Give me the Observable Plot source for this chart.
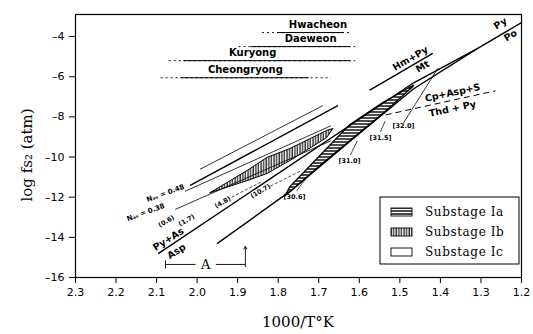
<!DOCTYPE html>
<html><head><meta charset="utf-8">
<script src="https://cdn.jsdelivr.net/npm/d3@7"></script>
<script src="https://cdn.jsdelivr.net/npm/@observablehq/plot@0.6"></script>
<style>
body{margin:0;background:#fff;}
#chart{width:533px;height:334px;}
</style></head><body><div id="chart"></div>
<script>
// ---- axes ----
const xTicks = [2.3,2.2,2.1,2.0,1.9,1.8,1.7,1.6,1.5,1.4,1.3,1.2];
const yTicks = [-4,-6,-8,-10,-12,-14,-16];

// ---- boundary lines (1000/T, log fS2) ----
const lineAspPo = [[2.095,-14.8],[1.466,-6.3],[1.309,-4.6],[1.200,-3.3]];
const lineLower = [[1.950,-14.3],[1.770,-11.7],[1.622,-9.2],[1.466,-6.6],[1.309,-4.6]];
const lineHmMt1 = [[2.016,-11.4],[1.654,-7.45]];
const lineHmMt2 = [[1.573,-6.65],[1.420,-4.85]];
const lineThin1 = [[1.992,-10.6],[1.691,-7.45]];
const lineNAs48 = [[2.029,-11.7],[1.671,-8.45]];
const lineNAs38 = [[2.053,-12.6],[1.671,-9.2]];
const lineSteep = [[1.407,-5.6],[1.491,-8.3]];
const lineCpThd = [[1.535,-7.9],[1.264,-6.7]];

// ---- substage regions: x, upper, lower ----
const stageIaX  = [1.782,1.770,1.696,1.622,1.540,1.466];
const stageIaHi = [-11.95,-11.5,-9.95,-8.4,-7.3,-6.45];
const stageIaLo = [-11.95,-11.75,-10.45,-9.2,-7.84,-6.5];
const stageIbX  = [1.967,1.876,1.827,1.770,1.679,1.664];
const stageIbHi = [-11.8,-10.7,-10.05,-9.6,-8.7,-8.6];
const stageIbLo = [-11.8,-11.2,-10.85,-10.2,-9.05,-8.6];

// ---- deposits (temperature ranges) ----
const stations = ["Hwacheon","Daeweon","Kuryong","Cheongryong"];
const stationY = [-3.8,-4.5,-5.2,-6.05];
const stationSolidFrom = [1.800,1.868,2.034,2.041];
const stationSolidTo   = [1.639,1.622,1.622,1.725];
const stationDashFrom  = [1.840,1.898,2.070,2.090];
const stationDashTo    = [1.620,1.610,1.610,1.670];
const stationLabelX    = [1.702,1.720,1.863,1.881];

// ---- labels ----
const reactTexts = ["Py","Po","Hm+Py","Mt","Cp+Asp+S","Thd + Py","Py+As","Asp"];
const reactX = [1.252,1.227,1.474,1.444,1.370,1.370,2.071,2.051];
const reactY = [-3.35,-3.95,-5.1,-5.5,-6.8,-7.6,-14.1,-14.7];
const reactRot = [-32,-32,-30,-30,-12,-12,-32,-32];

const nasTexts = ["N\u2090\u209b = 0.48","N\u2090\u209b = 0.38"];
const nasX = [2.078,2.127];
const nasY = [-11.8,-12.75];

const molTexts = ["(0.6)","(1.7)","(4.8)","(10.7)"];
const molX = [2.076,2.026,1.937,1.844];
const molY = [-13.2,-13.15,-12.25,-11.7];
const molLeadX1 = [null,null,1.915,1.819];
const molLeadX2 = [null,null,1.838,1.745];
const molLeadY1 = [null,null,-12.0,-11.45];
const molLeadY2 = [null,null,-11.2,-10.7];

const aspTexts = ["[30.6]","[31.0]","[31.5]","[32.0]"];
const aspX = [1.760,1.624,1.548,1.491];
const aspY = [-12.0,-10.2,-9.05,-8.45];
const aspLeadX1 = [1.755,1.622,1.548];
const aspLeadX2 = [1.733,1.605,1.536];
const aspLeadY1 = [-11.7,-9.9,-8.75];
const aspLeadY2 = [-11.1,-9.2,-8.2];

// bracket A
const bracketY = -15.35;
const bracketLeft = 2.078, bracketRight = 1.881, bracketMid = 1.979;
const bracketArrowTop = -14.45, bracketArrowBottom = -15.45;

// ---- derived tables ----
const toPts = (arr, id) => arr.map(([x,y]) => ({x, y, id}));
const solidLines = [
  ...toPts(lineAspPo,"asp"), ...toPts(lineLower,"low"),
  ...toPts(lineHmMt1,"hm1"), ...toPts(lineHmMt2,"hm2")
];
const thinLines = [
  ...toPts(lineThin1,"t1"), ...toPts(lineNAs48,"n48"), ...toPts(lineNAs38,"n38"), ...toPts(lineSteep,"st")
];
const ia = stageIaX.map((x,i)=>({x, hi:stageIaHi[i], lo:stageIaLo[i]}));
const ib = stageIbX.map((x,i)=>({x, hi:stageIbHi[i], lo:stageIbLo[i]}));
const st = stations.map((s,i)=>({name:s, y:stationY[i], s1:stationSolidFrom[i], s2:stationSolidTo[i], d1:stationDashFrom[i], d2:stationDashTo[i], lx:stationLabelX[i]}));
const react = reactTexts.map((t,i)=>({t, x:reactX[i], y:reactY[i], r:reactRot[i]}));
const nas = nasTexts.map((t,i)=>({t, x:nasX[i], y:nasY[i]}));
const mol = molTexts.map((t,i)=>({t, x:molX[i], y:molY[i]}));
const molLead = molLeadX1.map((x,i)=>({x1:x, x2:molLeadX2[i], y1:molLeadY1[i], y2:molLeadY2[i]})).filter(d=>d.x1!=null);
const asp = aspTexts.map((t,i)=>({t, x:aspX[i], y:aspY[i]}));
const aspLead = aspLeadX1.map((x,i)=>({x1:x, x2:aspLeadX2[i], y1:aspLeadY1[i], y2:aspLeadY2[i]}));

const smallFont = "DejaVu Sans";

const chart = Plot.plot({
  width: 533, height: 334,
  marginLeft: 75, marginRight: 12, marginTop: 14, marginBottom: 57,
  style: {background: "white", color: "black", fontFamily: "DejaVu Sans", fontSize: "11px"},
  x: {domain: [2.3, 1.2], ticks: xTicks, tickFormat: d => d.toFixed(1), tickSize: 6, tickPadding: 5, label: null},
  y: {domain: [-16, -2.9], ticks: yTicks, tickFormat: d => "\u2013" + Math.abs(d), tickSize: 6, tickPadding: 5, label: null},
  marks: [
    Plot.frame({stroke: "black", strokeWidth: 1.2}),
    Plot.areaY(ia, {x: "x", y1: "lo", y2: "hi", fill: "url(#hatchH)", stroke: "black", strokeWidth: 1.3}),
    Plot.areaY(ib, {x: "x", y1: "lo", y2: "hi", fill: "url(#hatchV)", stroke: "black", strokeWidth: 1}),
    Plot.line(solidLines, {x: "x", y: "y", z: "id", stroke: "black", strokeWidth: 1.4}),
    Plot.line(thinLines, {x: "x", y: "y", z: "id", stroke: "black", strokeWidth: 0.8}),
    Plot.link([{x1: lineCpThd[0][0], y1: lineCpThd[0][1], x2: lineCpThd[1][0], y2: lineCpThd[1][1]}],
      {x1: "x1", y1: "y1", x2: "x2", y2: "y2", stroke: "black", strokeWidth: 1, strokeDasharray: "6,4"}),
    // deposits
    Plot.link(st, {x1: "d1", x2: "d2", y1: "y", y2: "y", stroke: "black", strokeWidth: 0.9, strokeDasharray: "2,3"}),
    Plot.link(st, {x1: "s1", x2: "s2", y1: "y", y2: "y", stroke: "black", strokeWidth: 1}),
    Plot.text(st, {x: "lx", y: "y", text: "name", dy: -8, fontSize: 10, fontWeight: "bold", fontFamily: smallFont, style: "letter-spacing:0.6px"}),
    // reaction labels
    Plot.text(react, {x: "x", y: "y", text: "t", rotate: "r", fontSize: 9.5, fontWeight: "bold", fontFamily: smallFont}),
    Plot.text(nas, {x: "x", y: "y", text: "t", rotate: -20, fontSize: 7, fontWeight: "bold", fontFamily: smallFont}),
    Plot.text(mol, {x: "x", y: "y", text: "t", rotate: -30, fontSize: 6.5, fontWeight: "bold", fontFamily: smallFont}),
    Plot.link(molLead, {x1: "x1", y1: "y1", x2: "x2", y2: "y2", stroke: "black", strokeWidth: 0.7, strokeDasharray: "3,2"}),
    Plot.text(asp, {x: "x", y: "y", text: "t", fontSize: 6.5, fontWeight: "bold", fontFamily: smallFont}),
    Plot.link(aspLead, {x1: "x1", y1: "y1", x2: "x2", y2: "y2", stroke: "black", strokeWidth: 0.7}),
    // bracket A
    Plot.link([{a: bracketLeft, b: bracketMid + 0.025}, {a: bracketMid - 0.025, b: bracketRight}],
      {x1: "a", x2: "b", y1: bracketY, y2: bracketY, stroke: "black", strokeWidth: 0.9}),
    Plot.link([{x: bracketLeft}], {x1: "x", x2: "x", y1: bracketY - 0.2, y2: bracketY + 0.2, stroke: "black", strokeWidth: 0.9}),
    Plot.arrow([{x: bracketRight}], {x1: "x", x2: "x", y1: bracketArrowBottom, y2: bracketArrowTop, stroke: "black", strokeWidth: 0.9, headLength: 5}),
    Plot.text([{x: bracketMid}], {x: "x", y: bracketY, text: () => "A", fontSize: 13, fontFamily: "DejaVu Serif"})
  ]
});

const svg = d3.select(chart);
const defs = svg.insert("defs", ":first-child");
const pH = defs.append("pattern").attr("id", "hatchH").attr("patternUnits", "userSpaceOnUse").attr("width", 6).attr("height", 3);
pH.append("rect").attr("width", 6).attr("height", 3).attr("fill", "white");
pH.append("line").attr("x1", 0).attr("x2", 6).attr("y1", 1).attr("y2", 1).attr("stroke", "black").attr("stroke-width", 1.4);
const pV = defs.append("pattern").attr("id", "hatchV").attr("patternUnits", "userSpaceOnUse").attr("width", 2.6).attr("height", 6);
pV.append("rect").attr("width", 2.6).attr("height", 6).attr("fill", "white");
pV.append("line").attr("x1", 1).attr("x2", 1).attr("y1", 0).attr("y2", 6).attr("stroke", "black").attr("stroke-width", 1.1);

// legend
const legendItems = ["Substage Ia", "Substage Ib", "Substage Ic"];
const legendFills = ["url(#hatchH)", "url(#hatchV)", "white"];
const lg = svg.append("g").attr("text-anchor", "start");
lg.append("rect").attr("x", 380).attr("y", 197).attr("width", 139).attr("height", 67).attr("fill", "white").attr("stroke", "black").attr("stroke-width", 1);
legendItems.forEach((t, i) => {
  const yy = 212 + i * 20;
  lg.append("rect").attr("x", 391).attr("y", yy - 4).attr("width", 21).attr("height", 8).attr("fill", legendFills[i]).attr("stroke", "black").attr("stroke-width", 0.9);
  lg.append("text").attr("x", 425).attr("y", yy + 4).attr("text-anchor", "start").text(t)
    .attr("font-family", "DejaVu Serif").attr("font-size", 12).attr("letter-spacing", "0.6px");
});

// axis titles
svg.append("text").attr("x", 298).attr("y", 327).attr("text-anchor", "middle")
  .attr("font-family", "DejaVu Serif").attr("font-size", 15).text("1000/T\u00b0K");
svg.append("text").attr("transform", "translate(32,155) rotate(-90)").attr("text-anchor", "middle")
  .attr("font-family", "DejaVu Serif").attr("font-size", 15).text("log fs\u2082 (atm)");

document.getElementById("chart").appendChild(chart);
</script></body></html>
